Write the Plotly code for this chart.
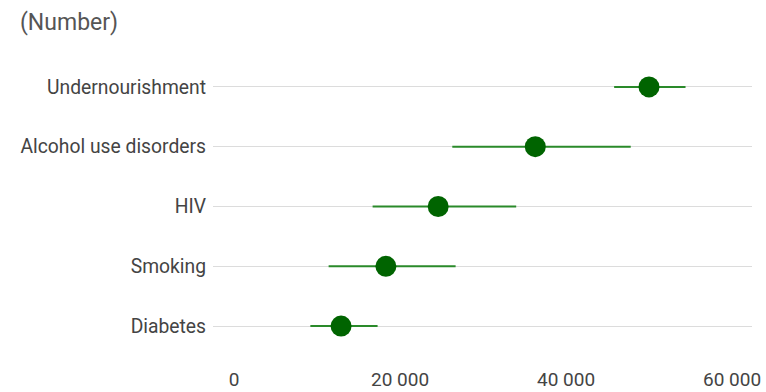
import plotly.graph_objects as go

# Risk factors, bottom to top
categories = ["Diabetes", "Smoking", "HIV", "Alcohol use disorders", "Undernourishment"]
estimate = [12900, 18300, 24600, 36300, 50000]
lower = [9200, 11400, 16700, 26300, 45800]
upper = [17300, 26700, 34000, 47800, 54400]

tick_vals = [0, 20000, 40000, 60000]
tick_text = ["0", "20 000", "40 000", "60 000"]

err_plus = [u - e for u, e in zip(upper, estimate)]
err_minus = [e - l for e, l in zip(estimate, lower)]

fig = go.Figure(
    go.Scatter(
        x=estimate,
        y=categories,
        mode="markers",
        marker=dict(size=21, color="#006400", line=dict(width=0)),
        error_x=dict(
            type="data",
            symmetric=False,
            array=err_plus,
            arrayminus=err_minus,
            color="#2a8a2a",
            thickness=2,
            width=0,
        ),
        hoverinfo="skip",
    )
)

fig.update_layout(
    width=766,
    height=392,
    margin=dict(l=213, r=14, t=57, b=36),
    paper_bgcolor="white",
    plot_bgcolor="white",
    showlegend=False,
    font=dict(family="Roboto, Arial, sans-serif", size=19, color="#444"),
    title=dict(
        text="(Number)",
        xref="container",
        yref="container",
        x=20 / 766,
        y=1 - 22 / 392,
        xanchor="left",
        yanchor="middle",
        font=dict(size=23, color="#555"),
    ),
)

fig.update_xaxes(
    range=[-2530, 62410],
    tickvals=tick_vals,
    ticktext=tick_text,
    showgrid=False,
    zeroline=False,
    showline=False,
    ticks="",
    automargin=False,
    ticklabelstandoff=10,
    ticklabeloverflow="allow",
    tickfont=dict(size=19, color="#444"),
)

fig.update_yaxes(
    type="category",
    categoryorder="array",
    categoryarray=categories,
    range=[-0.5, 4.5],
    showgrid=True,
    gridcolor="#dcdcdc",
    gridwidth=1,
    zeroline=False,
    showline=False,
    ticks="",
    automargin=False,
    ticklabelstandoff=6,
    tickfont=dict(size=19.3, color="#444"),
)

fig.write_html("out.html")
